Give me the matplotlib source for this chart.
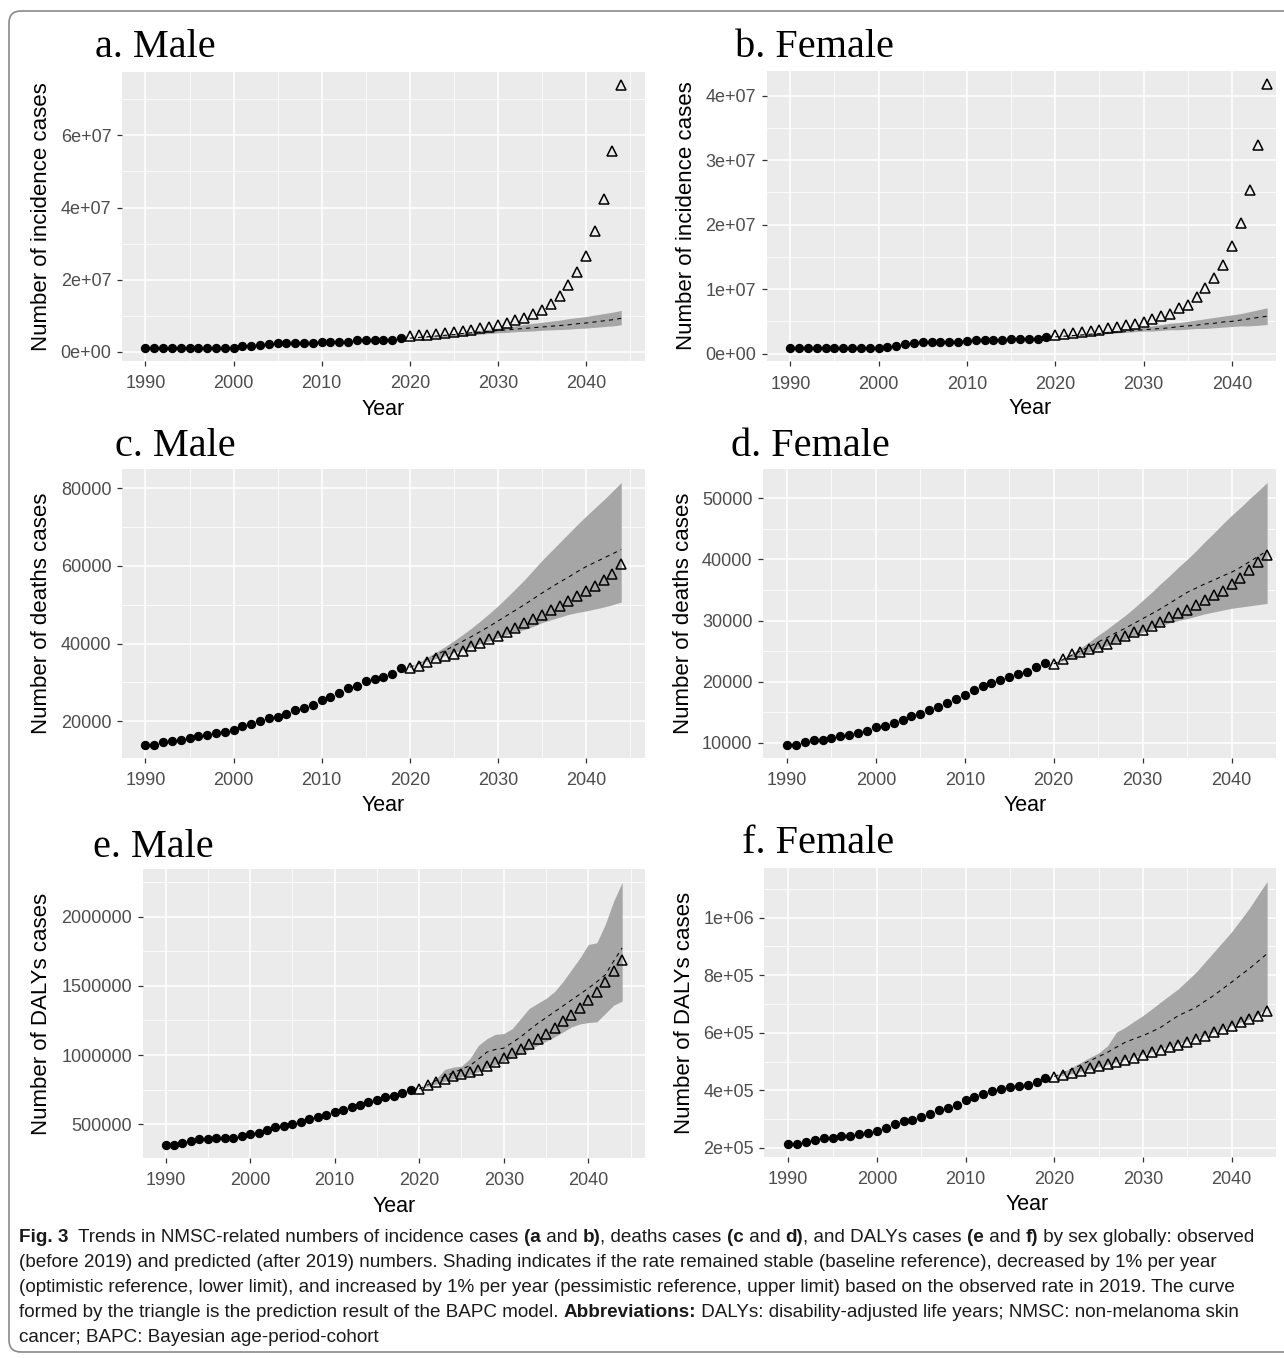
import numpy as np
import matplotlib
matplotlib.use('Agg')
import matplotlib.pyplot as plt
from matplotlib.ticker import MultipleLocator, FixedLocator, FuncFormatter
from matplotlib.patches import FancyBboxPatch

plt.rcParams['font.family'] = ['Liberation Sans', 'DejaVu Sans']

years_obs = np.arange(1990, 2020)
years_pred = np.arange(2020, 2045)

# a. incidence, male (millions)
inc_m_obs = [1.2, 1.2, 1.2, 1.2, 1.2, 1.2, 1.2, 1.2, 1.2, 1.2, 1.2, 1.5, 1.6, 2.0, 2.1,
             2.5, 2.5, 2.5, 2.5, 2.5, 2.8, 2.8, 2.8, 2.8, 3.2, 3.3, 3.2, 3.2, 3.2, 3.8]
inc_m_pred = [4.3, 4.6, 4.8, 5.0, 5.3, 5.6, 5.9, 6.2, 6.6, 7.0, 7.4, 8.0, 8.7, 9.5, 10.5,
              11.7, 13.2, 15.6, 18.4, 22.0, 26.6, 33.5, 42.4, 55.7, 74.0]
inc_m_base = [3.8, 4.0, 4.2, 4.4, 4.6, 4.8, 5.1, 5.3, 5.5, 5.7, 5.9, 6.1, 6.3, 6.5, 6.7,
              6.9, 7.1, 7.3, 7.5, 7.8, 8.0, 8.3, 8.6, 8.9, 9.3]
inc_m_low = [3.8, 3.9, 4.0, 4.1, 4.2, 4.3, 4.5, 4.7, 4.9, 5.1, 5.3, 5.4, 5.6, 5.7, 5.8,
             6.0, 6.1, 6.2, 6.3, 6.5, 6.6, 6.8, 7.0, 7.2, 7.5]
inc_m_up = [3.8, 4.0, 4.3, 4.6, 4.8, 5.1, 5.4, 5.7, 6.0, 6.3, 6.6, 6.9, 7.2, 7.6, 7.9,
            8.2, 8.5, 8.8, 9.2, 9.5, 9.8, 10.2, 10.6, 11.0, 11.5]

# b. incidence, female (millions)
inc_f_obs = [0.9, 0.9, 0.9, 0.9, 0.9, 0.9, 0.9, 0.9, 0.9, 0.9, 0.9, 1.1, 1.2, 1.5, 1.65,
             1.85, 1.85, 1.85, 1.85, 1.85, 1.9, 2.05, 2.1, 2.1, 2.1, 2.3, 2.3, 2.3, 2.3, 2.6]
inc_f_pred = [2.9, 3.1, 3.2, 3.4, 3.5, 3.7, 3.9, 4.1, 4.4, 4.6, 4.9, 5.3, 5.8, 6.2, 7.0,
              7.6, 8.8, 10.1, 11.7, 13.8, 16.6, 20.3, 25.3, 32.3, 41.8]
inc_f_base = [2.6, 2.7, 2.8, 2.9, 3.0, 3.1, 3.2, 3.3, 3.4, 3.6, 3.7, 3.8, 3.9, 4.0, 4.2,
              4.3, 4.4, 4.6, 4.7, 4.9, 5.0, 5.2, 5.4, 5.6, 5.8]
inc_f_low = [2.6, 2.7, 2.7, 2.8, 2.9, 3.0, 3.1, 3.2, 3.3, 3.4, 3.5, 3.5, 3.6, 3.7, 3.7,
             3.8, 3.9, 3.9, 4.0, 4.1, 4.2, 4.3, 4.3, 4.4, 4.5]
inc_f_up = [2.6, 2.8, 2.9, 3.0, 3.2, 3.3, 3.5, 3.6, 3.8, 3.9, 4.1, 4.3, 4.5, 4.7, 4.8,
            5.0, 5.2, 5.4, 5.6, 5.8, 6.0, 6.2, 6.5, 6.8, 7.1]

# c. deaths, male
dth_m_obs = [14000, 14000, 14600, 15000, 15300, 15700, 16200, 16500, 16900, 17200,
             17700, 18900, 19300, 20000, 20900, 21200, 21900, 23000, 23500, 24300,
             25500, 26200, 27400, 28500, 29100, 30400, 31000, 31500, 32100, 33600]
dth_m_pred = [33600, 34300, 35300, 36200, 36800, 37400, 38100, 39400, 40100, 41100,
              42000, 43000, 44100, 45200, 46400, 47300, 48600, 49800, 50900, 52200,
              53500, 54800, 56300, 58000, 60600]
dth_m_base = [33900, 34900, 36000, 37100, 38200, 39400, 40600, 41800, 43100, 44400,
              45800, 47200, 48600, 50000, 51500, 53000, 54400, 55800, 57100, 58500,
              59800, 60900, 62000, 63100, 64200]
dth_m_up = [33900, 35100, 36500, 37800, 39200, 40700, 42300, 44000, 45800, 47700,
            49700, 51900, 54100, 56400, 58900, 61400, 63700, 66000, 68300, 70600,
            72800, 74900, 77000, 79200, 81500]
dth_m_low = [33900, 34700, 35500, 36200, 36900, 37700, 38400, 39200, 40000, 40700,
             41500, 42300, 43000, 43600, 44400, 45400, 46100, 46800, 47500, 48000,
             48400, 48900, 49400, 50000, 50700]

# d. deaths, female
dth_f_obs = [9700, 9700, 10100, 10400, 10500, 10800, 11100, 11300, 11600, 12000,
             12600, 12800, 13300, 13800, 14300, 14700, 15300, 15900, 16500, 17100,
             17800, 18600, 19300, 19800, 20300, 20800, 21200, 21500, 22400, 23000]
dth_f_pred = [22900, 23700, 24500, 24800, 25400, 25600, 26200, 27000, 27500, 28100,
              28500, 29100, 29800, 30600, 31200, 31800, 32500, 33300, 34100, 34900,
              36000, 37000, 38200, 39600, 40700]
dth_f_base = [22900, 23600, 24300, 25000, 25700, 26500, 27200, 28000, 28700, 29500,
              30300, 31100, 31900, 32800, 33700, 34600, 35300, 36000, 36600, 37300,
              37900, 38700, 39600, 40500, 41400]
dth_f_up = [22900, 23700, 24600, 25500, 26500, 27600, 28600, 29700, 30800, 32000,
            33300, 34600, 36000, 37300, 38700, 40000, 41400, 42900, 44300, 45800,
            47200, 48500, 49900, 51200, 52600]
dth_f_low = [22900, 23400, 23900, 24400, 24900, 25400, 25900, 26400, 26900, 27500,
             28100, 28600, 29100, 29600, 30000, 30300, 30700, 31100, 31400, 31700,
             32000, 32200, 32400, 32600, 32800]

# e. DALYs, male
daly_m_obs = [352000, 352000, 366000, 378000, 391000, 391000, 403000, 403000, 403000, 415000,
              427000, 439000, 456000, 476000, 488000, 500000, 512000, 536000, 549000, 568000,
              590000, 605000, 626000, 641000, 658000, 675000, 694000, 707000, 726000, 750000]
daly_m_pred = [755000, 780000, 804000, 828000, 851000, 860000, 877000, 895000, 924000, 953000,
               978000, 1014000, 1045000, 1082000, 1118000, 1155000, 1196000, 1245000, 1293000,
               1342000, 1398000, 1459000, 1532000, 1610000, 1690000]
daly_m_base = [755000, 785000, 816000, 845000, 872000, 897000, 924000, 970000, 1021000, 1040000,
               1050000, 1090000, 1131000, 1180000, 1228000, 1270000, 1313000, 1355000, 1398000,
               1440000, 1483000, 1530000, 1580000, 1680000, 1775000]
daly_m_up = [755000, 790000, 828000, 895000, 912000, 920000, 974000, 1070000, 1118000, 1150000,
             1155000, 1191000, 1264000, 1337000, 1374000, 1410000, 1459000, 1532000, 1617000,
             1702000, 1800000, 1812000, 1945000, 2115000, 2249000]
daly_m_low = [755000, 772000, 790000, 810000, 828000, 843000, 857000, 881000, 905000, 929000,
              953000, 981000, 1009000, 1040000, 1070000, 1100000, 1131000, 1167000, 1203000,
              1225000, 1235000, 1240000, 1300000, 1361000, 1390000]

# f. DALYs, female
daly_f_obs = [215000, 215000, 221000, 227000, 235000, 235000, 243000, 243000, 249000, 252000,
              258000, 270000, 282000, 293000, 297000, 308000, 319000, 330000, 340000, 350000,
              365000, 376000, 386000, 398000, 404000, 410000, 415000, 420000, 429000, 442000]
daly_f_pred = [448000, 453000, 462000, 468000, 476000, 483000, 491000, 499000, 506000, 514000,
               523000, 532000, 541000, 549000, 559000, 569000, 578000, 590000, 602000, 613000,
               625000, 637000, 648000, 660000, 674000]
daly_f_base = [448000, 461000, 474000, 488000, 503000, 517000, 532000, 550000, 567000, 579000,
               590000, 604000, 619000, 640000, 660000, 674000, 689000, 710000, 730000, 753000,
               776000, 800000, 823000, 849000, 875000]
daly_f_up = [448000, 464000, 480000, 497000, 514000, 530000, 555000, 602000, 619000, 640000,
             660000, 683000, 707000, 730000, 753000, 782000, 811000, 846000, 881000, 916000,
             951000, 992000, 1033000, 1080000, 1126000]
daly_f_low = [448000, 453000, 458000, 466000, 474000, 482000, 490000, 499000, 508000, 517000,
              526000, 535000, 545000, 554000, 563000, 572000, 582000, 592000, 603000, 614000,
              625000, 636000, 648000, 664000, 690000]

M = 1e6
W, H = 1284, 1358
fig = plt.figure(figsize=(W / 100, H / 100), dpi=100)


def px_axes(l, t, r, b):
    return fig.add_axes([l / W, 1 - b / H, (r - l) / W, (b - t) / H])


sci = FuncFormatter(lambda v, p: f'{v:.0e}')
plain = FuncFormatter(lambda v, p: f'{v:.0f}')

panels = [
    ('a. Male', (121.7, 71.7, 645, 360.7), 2046.7, (95, 57), 42, (383, 415),
     'Number of incidence cases', [0, 2e7, 4e7, 6e7], sci,
     [np.array(v) * M for v in (inc_m_obs, inc_m_pred, inc_m_base, inc_m_low, inc_m_up)]),
    ('b. Female', (766.5, 70.7, 1276, 361), 2045.0, (735, 57), 686, (1030, 414),
     'Number of incidence cases', [0, 1e7, 2e7, 3e7, 4e7], sci,
     [np.array(v) * M for v in (inc_f_obs, inc_f_pred, inc_f_base, inc_f_low, inc_f_up)]),
    ('c. Male', (121.7, 469.3, 645, 757.7), 2046.7, (115, 456), 42, (383, 811),
     'Number of deaths cases', [20000, 40000, 60000, 80000], plain,
     [np.array(v) for v in (dth_m_obs, dth_m_pred, dth_m_base, dth_m_low, dth_m_up)]),
    ('d. Female', (763, 469.3, 1276, 757.7), 2045.0, (731, 456), 684, (1025, 811),
     'Number of deaths cases', [10000, 20000, 30000, 40000, 50000], plain,
     [np.array(v) for v in (dth_f_obs, dth_f_pred, dth_f_base, dth_f_low, dth_f_up)]),
    ('e. Male', (142.7, 869.3, 645, 1157.7), 2046.7, (93, 857), 42, (394, 1212),
     'Number of DALYs cases', [500000, 1000000, 1500000, 2000000], plain,
     [np.array(v) for v in (daly_m_obs, daly_m_pred, daly_m_base, daly_m_low, daly_m_up)]),
    ('f. Female', (764.3, 868.3, 1276, 1156.7), 2045.0, (742, 853), 685, (1027, 1210),
     'Number of DALYs cases', [2e5, 4e5, 6e5, 8e5, 1e6], sci,
     [np.array(v) for v in (daly_f_obs, daly_f_pred, daly_f_base, daly_f_low, daly_f_up)]),
]

for title, box, xr, tpos, ylx, ypos, ylab, yt, fmt, (obs, pred, base, low, up) in panels:
    ax = px_axes(*box)
    ax.set_facecolor('#EBEBEB')
    for s in ax.spines.values():
        s.set_visible(False)

    ax.fill_between(years_pred, low, up, color='#A6A6A6', lw=0, zorder=2)
    ax.plot(years_pred, base, color='black', lw=0.75, ls=(0, (4, 4)), zorder=3)
    ax.plot(years_pred, pred, ls='none', marker='^', ms=7.5, mfc='none',
            mec='black', mew=1.1, zorder=4)
    ax.plot(years_obs, obs, ls='none', marker='o', ms=5.7, color='black', zorder=5)

    lo = min(obs.min(), pred.min(), low.min())
    hi = max(obs.max(), pred.max(), up.max())
    pad = 0.05 * (hi - lo)
    ax.set_ylim(lo - pad, hi + pad)
    ax.set_xlim(1987.3, xr)

    step = yt[1] - yt[0]
    ax.yaxis.set_major_locator(FixedLocator(yt))
    ax.yaxis.set_minor_locator(MultipleLocator(step / 2))
    ax.yaxis.set_major_formatter(fmt)
    ax.xaxis.set_major_locator(FixedLocator([1990, 2000, 2010, 2020, 2030, 2040]))
    ax.xaxis.set_minor_locator(FixedLocator([1995, 2005, 2015, 2025, 2035, 2045]))

    ax.grid(which='major', color='white', lw=1.1)
    ax.grid(which='minor', color='white', lw=0.55)
    ax.set_axisbelow(True)
    ax.tick_params(which='major', length=3.3, width=0.9, color='#333333',
                   labelcolor='#4D4D4D', labelsize=13)
    ax.tick_params(axis='y', which='major', pad=4.2)
    ax.tick_params(axis='x', which='major', pad=7.2)
    ax.tick_params(which='minor', length=0)

    fig.text(tpos[0] / W, 1 - tpos[1] / H, title, family='Liberation Serif',
             fontsize=29, ha='left', va='baseline')
    cy = (box[1] + box[3]) / 2
    fig.text(ylx / W, 1 - cy / H, ylab, rotation=90, fontsize=16,
             ha='center', va='center')
    fig.text(ypos[0] / W, 1 - ypos[1] / H, 'Year', fontsize=15.5,
             ha='center', va='baseline')

# caption
cap_font = ['Liberation Sans', 'DejaVu Sans']
cap_lines = [
    [('Fig. 3', True), ('  Trends in NMSC-related numbers of incidence cases ', False),
     ('(a', True), (' and ', False), ('b)', True), (', deaths cases ', False),
     ('(c', True), (' and ', False), ('d)', True), (', and DALYs cases ', False),
     ('(e', True), (' and ', False), ('f)', True), (' by sex globally: observed', False)],
    [('(before 2019) and predicted (after 2019) numbers. Shading indicates if the rate '
      'remained stable (baseline reference), decreased by 1% per year', False)],
    [('(optimistic reference, lower limit), and increased by 1% per year (pessimistic '
      'reference, upper limit) based on the observed rate in 2019. The curve', False)],
    [('formed by the triangle is the prediction result of the BAPC model. ', False),
     ('Abbreviations:', True),
     (' DALYs: disability-adjusted life years; NMSC: non-melanoma skin', False)],
    [('cancer; BAPC: Bayesian age-period-cohort', False)],
]
cap_base = [1242, 1267, 1292, 1317, 1342]

renderer = fig.canvas.get_renderer()


def run_width(runs, size):
    w = 0
    for s, b in runs:
        t = fig.text(0, 0, s, fontsize=size, family=cap_font,
                     fontweight='bold' if b else 'normal')
        w += t.get_window_extent(renderer).width
        t.remove()
    return w


cap_size = 10 * 1244 / run_width(cap_lines[0], 10)
for runs, yb in zip(cap_lines, cap_base):
    x = 19
    for s, b in runs:
        t = fig.text(x / W, 1 - yb / H, s, fontsize=cap_size, family=cap_font,
                     fontweight='bold' if b else 'normal', ha='left', va='baseline',
                     color='#1a1a1a')
        x += t.get_window_extent(renderer).width

frame = FancyBboxPatch((0.09, 0.06), 13.6, 13.41,
                       boxstyle='round,pad=0,rounding_size=0.12',
                       transform=fig.dpi_scale_trans, fc='none', ec='#8a8a8a', lw=1.2)
fig.add_artist(frame)

fig.savefig('out.png', dpi=100)
